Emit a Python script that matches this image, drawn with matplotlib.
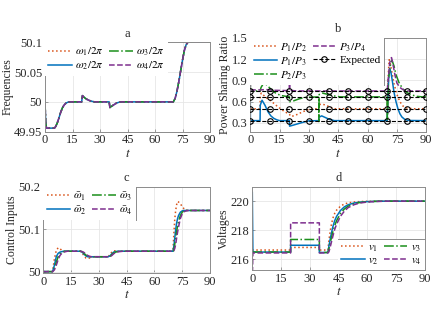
import matplotlib
matplotlib.use("Agg")
import matplotlib.pyplot as plt
from matplotlib.lines import Line2D

plt.rcParams['font.family'] = ['Liberation Serif', 'DejaVu Serif']
plt.rcParams['mathtext.fontset'] = 'stix'

# ---------------- data ----------------
# panel a: frequencies (all four DGs overlap)
t_freq = [0, 0.4, 0.8, 5.0, 5.5, 6.5, 7.5, 8.5, 9.5, 10.5, 11.5, 12.5, 14.0, 20.0, 20.4, 21.0, 22.0,
          23.0, 24.0, 25.5, 27.0, 35.0, 35.4, 36.0, 37.0, 38.0, 39.0, 40.5, 42.0, 70.0, 71.0,
          72.0, 73.0, 74.0, 75.0, 76.0, 77.0, 78.0, 90.0]
freq = [50.0, 49.965, 49.956, 49.956, 49.957, 49.963, 49.972, 49.982, 49.99, 49.995, 49.998, 49.9995,
        50.0, 50.0, 50.0105, 50.0085, 50.006, 50.004, 50.0025, 50.001, 50.0, 50.0, 49.9905, 49.992,
        49.994, 49.996, 49.998, 49.9995, 50.0, 50.0, 50.006, 50.018, 50.034, 50.052, 50.07, 50.086,
        50.096, 50.1, 50.1]

# panel b: power sharing ratios
t_p12 = [0, 5.0, 5.1, 5.6, 8.0, 11.0, 14.0, 17.0, 20.0, 21.0, 24.0, 27.0, 30.0, 33.0, 35.0, 35.2,
         37.0, 39.0, 41.0, 43.0, 70.0, 70.5, 71.0, 71.5, 72.5, 73.5, 75.0, 76.5, 78.0, 80.0, 83.0, 90.0]
p12 = [0.5, 0.5, 0.68, 0.72, 0.66, 0.6, 0.53, 0.47, 0.42, 0.39, 0.42, 0.46, 0.49, 0.5, 0.5, 0.56,
       0.565, 0.545, 0.52, 0.5, 0.5, 0.95, 1.19, 1.15, 1.0, 0.85, 0.7, 0.6, 0.54, 0.51, 0.5, 0.5]

t_p13 = [0, 0.05, 0.3, 5.0, 5.1, 6.0, 7.5, 9.0, 10.5, 12.0, 13.5, 15.0, 20.0, 20.1, 22.0, 24.5, 27.0,
         30.0, 35.0, 35.1, 36.5, 38.5, 40.5, 43.0, 70.0, 70.3, 70.8, 71.3, 72.0, 72.7, 73.5, 74.5,
         75.5, 76.5, 77.5, 79.0, 81.0, 90.0]
p13 = [0.6, 0.333, 0.333, 0.333, 0.55, 0.62, 0.55, 0.46, 0.4, 0.365, 0.345, 0.333, 0.333, 0.255,
       0.27, 0.29, 0.31, 0.33, 0.333, 0.38, 0.4, 0.375, 0.35, 0.333, 0.333, 0.6, 0.95, 1.07, 1.0,
       0.88, 0.73, 0.6, 0.5, 0.43, 0.385, 0.35, 0.335, 0.333]

t_p23 = [0, 0.05, 0.4, 5.0, 5.5, 7.0, 9.0, 11.0, 13.5, 16.0, 20.0, 20.05, 22.0, 25.0, 28.0, 35.0,
         35.05, 35.2, 37.0, 40.0, 43.0, 46.0, 69.9, 70.0, 70.2, 70.6, 71.5, 72.5, 73.5, 74.5, 76.0,
         78.0, 80.0, 82.0, 85.0, 88.0, 90.0]
p23 = [1.08, 0.76, 0.75, 0.75, 0.8, 0.87, 0.82, 0.76, 0.71, 0.685, 0.667, 0.6, 0.61, 0.64, 0.66,
       0.667, 0.32, 0.7, 0.72, 0.7, 0.68, 0.667, 0.667, 0.35, 0.35, 0.9, 1.1, 1.18, 1.1, 0.98, 0.87,
       0.78, 0.73, 0.7, 0.675, 0.667, 0.667]

t_p34 = [0, 0.05, 0.4, 5.0, 8.0, 12.0, 20.0, 20.05, 20.15, 23.0, 27.0, 35.0, 70.0, 70.5, 71.3,
         72.2, 73.0, 74.0, 75.0, 76.5, 78.0, 80.0, 90.0]
p34 = [1.0, 0.77, 0.765, 0.765, 0.77, 0.76, 0.755, 0.93, 0.76, 0.752, 0.75, 0.75, 0.75, 0.9, 1.15,
       1.22, 1.12, 0.97, 0.86, 0.8, 0.77, 0.75, 0.75]

t_expected = [0, 10, 20, 30, 40, 50, 60, 70, 80, 90]
expected_levels = [0.5, 0.333, 0.667, 0.75]

# panel c: control inputs
t_ctrl = [0, 5, 6, 7, 8, 9, 10, 11, 12, 13, 14, 16, 20, 21, 22, 23, 24, 25, 26, 28, 35, 36, 37, 38,
          39, 40, 41, 43, 70, 70.5, 71, 71.5, 72, 72.5, 73, 74, 75, 76, 77, 78, 80, 90]
w1 = [50.0, 50.0, 50.03, 50.05, 50.056, 50.054, 50.05, 50.048, 50.048, 50.048, 50.048, 50.048,
      50.048, 50.044, 50.037, 50.032, 50.031, 50.032, 50.034, 50.035, 50.035, 50.04, 50.046,
      50.049, 50.049, 50.048, 50.048, 50.048, 50.048, 50.09, 50.125, 50.145, 50.158, 50.165,
      50.164, 50.16, 50.153, 50.148, 50.145, 50.144, 50.144, 50.144]
w2 = [50.0, 50.0, 50.015, 50.035, 50.043, 50.046, 50.047, 50.048, 50.048, 50.048, 50.048, 50.048,
      50.048, 50.046, 50.041, 50.037, 50.035, 50.035, 50.035, 50.035, 50.035, 50.037, 50.042,
      50.046, 50.047, 50.048, 50.048, 50.048, 50.048, 50.06, 50.08, 50.1, 50.115, 50.125, 50.132,
      50.14, 50.143, 50.144, 50.144, 50.144, 50.144, 50.144]
w3 = [50.0, 50.0, 50.008, 50.022, 50.035, 50.042, 50.045, 50.047, 50.048, 50.048, 50.048, 50.048,
      50.048, 50.047, 50.043, 50.039, 50.036, 50.035, 50.035, 50.035, 50.035, 50.036, 50.04,
      50.044, 50.046, 50.047, 50.048, 50.048, 50.048, 50.052, 50.065, 50.08, 50.095, 50.108,
      50.118, 50.132, 50.14, 50.143, 50.144, 50.144, 50.144, 50.144]
w4 = [50.0, 50.0, 50.004, 50.015, 50.028, 50.038, 50.043, 50.046, 50.047, 50.048, 50.048, 50.048,
      50.048, 50.047, 50.045, 50.041, 50.038, 50.036, 50.035, 50.035, 50.035, 50.035, 50.038,
      50.042, 50.045, 50.046, 50.047, 50.048, 50.048, 50.049, 50.055, 50.065, 50.08, 50.093,
      50.105, 50.125, 50.136, 50.141, 50.143, 50.144, 50.144, 50.144]

# panel d: voltages
t_volt = [0, 0.3, 20, 20, 35, 35, 39.5, 40, 41, 42, 43, 44, 46, 48, 50, 53, 56, 60, 65, 70, 90]
v1 = [216.6, 216.62, 216.62, 216.8, 216.8, 216.62, 216.62, 217.3, 218.2, 218.8, 219.15, 219.38,
      219.65, 219.8, 219.88, 219.94, 219.97, 219.99, 220.0, 220.0, 220.0]
v2 = [220.6, 216.48, 216.48, 216.95, 216.95, 216.45, 216.45, 216.9, 217.6, 218.2, 218.65, 218.95,
      219.35, 219.6, 219.75, 219.87, 219.93, 219.97, 219.99, 220.0, 220.0]
v3 = [216.5, 216.48, 216.48, 217.35, 217.35, 216.45, 216.45, 216.7, 217.3, 217.85, 218.3, 218.65,
      219.15, 219.45, 219.65, 219.82, 219.9, 219.96, 219.99, 220.0, 220.0]
v4 = [214.5, 216.42, 216.42, 218.5, 218.5, 216.42, 216.42, 216.5, 217.0, 217.55, 218.05, 218.4,
      218.95, 219.3, 219.55, 219.75, 219.87, 219.94, 219.98, 220.0, 220.0]

x_ticks = [0, 15, 30, 45, 60, 75, 90]

# ---------------- styles ----------------
C_OR = '#D95319'
C_BL = '#0072BD'
C_GR = '#1B8F1B'
C_PU = '#7E2F8E'
SPINE = '#8c8c8c'
GRID = '#e6e6e6'
FS_TICK = 9
FS_LAB = 8.5
LW = 1.1

fig = plt.figure(figsize=(4.37, 3.33), dpi=100)


def style_axes(ax, ylim, yticks, ylabels, title, ylabel):
    ax.set_xlim(0, 90)
    ax.set_ylim(*ylim)
    ax.set_xticks(x_ticks)
    ax.set_yticks(yticks)
    ax.set_yticklabels(ylabels)
    ax.tick_params(direction='in', length=2.5, width=0.6, colors=SPINE, labelcolor='#262626',
                   labelsize=FS_TICK, pad=2)
    for s in ax.spines.values():
        s.set_color(SPINE)
        s.set_linewidth(0.7)
    ax.grid(True, color=GRID, linewidth=0.6)
    ax.set_axisbelow(True)
    ax.set_title(title, fontsize=9, pad=4, color='#262626')
    ax.set_xlabel('$t$', fontsize=FS_LAB + 1, labelpad=1, color='#262626')
    ax.set_ylabel(ylabel, fontsize=FS_LAB, labelpad=0.5, color='#262626')


def make_legend(ax, loc, anchor, ncol=2):
    leg = ax.legend(loc=loc, bbox_to_anchor=anchor, ncol=ncol, fontsize=8, frameon=True,
                    fancybox=False, borderaxespad=0, handlelength=2.1, handletextpad=0.3,
                    columnspacing=0.5, labelspacing=0.15, borderpad=0.3)
    leg.get_frame().set_facecolor('white')
    leg.get_frame().set_edgecolor('none')
    leg.get_frame().set_alpha(1)
    return leg


# ---- panel a ----
axa = fig.add_axes([45 / 437, 1 - 131.7 / 333, 165 / 437, 89.5 / 333])
axa.plot(t_freq, freq, ':', color=C_OR, lw=LW, label=r'$\omega_1/2\pi$')
axa.plot(t_freq, freq, '-', color=C_BL, lw=LW, label=r'$\omega_2/2\pi$')
axa.plot(t_freq, freq, '-.', color=C_GR, lw=LW, label=r'$\omega_3/2\pi$')
axa.plot(t_freq, freq, '--', color=C_PU, lw=LW, label=r'$\omega_4/2\pi$')
style_axes(axa, (49.95, 50.1), [49.95, 50, 50.05, 50.1], ['49.95', '50', '50.05', '50.1'],
           'a', 'Frequencies')
leg_a = make_legend(axa, 'upper left', (0, 1))

# ---- panel b ----
axb = fig.add_axes([250.3 / 437, 1 - 131.5 / 333, 176 / 437, 93.8 / 333])
axb.plot(t_p12, p12, ':', color=C_OR, lw=LW, label=r'$P_1/P_2$')
axb.plot(t_p13, p13, '-', color=C_BL, lw=LW, label=r'$P_1/P_3$')
axb.plot(t_p23, p23, '-.', color=C_GR, lw=LW, label=r'$P_2/P_3$')
axb.plot(t_p34, p34, '--', color=C_PU, lw=LW, label=r'$P_3/P_4$')
for i, lev in enumerate(expected_levels):
    axb.plot(t_expected, [lev] * len(t_expected), '--o', color='black', lw=0.8, ms=4,
             mfc='none', mew=0.8, zorder=3, label='Expected' if i == 0 else None)
style_axes(axb, (0.18, 1.5), [0.3, 0.6, 0.9, 1.2, 1.5], ['0.3', '0.6', '0.9', '1.2', '1.5'],
           'b', 'Power Sharing Ratio')
leg_b = make_legend(axb, 'upper left', (0, 1))

# ---- panel c ----
axc = fig.add_axes([43.3 / 437, 1 - 273.3 / 333, 166.7 / 437, 86.6 / 333])
axc.plot(t_ctrl, w1, ':', color=C_OR, lw=LW, label=r'$\bar{\omega}_1$')
axc.plot(t_ctrl, w2, '-', color=C_BL, lw=LW, label=r'$\bar{\omega}_2$')
axc.plot(t_ctrl, w3, '-.', color=C_GR, lw=LW, label=r'$\bar{\omega}_3$')
axc.plot(t_ctrl, w4, '--', color=C_PU, lw=LW, label=r'$\bar{\omega}_4$')
style_axes(axc, (49.996, 50.2), [50, 50.1, 50.2], ['50', '50.1', '50.2'], 'c', 'Control Inputs')
leg_c = make_legend(axc, 'upper left', (0, 1))

# ---- panel d ----
axd = fig.add_axes([252.3 / 437, 1 - 270 / 333, 172.4 / 437, 83.3 / 333])
axd.plot(t_volt, v1, ':', color=C_OR, lw=LW, label=r'$v_1$')
axd.plot(t_volt, v2, '-', color=C_BL, lw=LW, label=r'$v_2$')
axd.plot(t_volt, v3, '-.', color=C_GR, lw=LW, label=r'$v_3$')
axd.plot(t_volt, v4, '--', color=C_PU, lw=LW, label=r'$v_4$')
style_axes(axd, (215.24, 221.0), [216, 218, 220], ['216', '218', '220'], 'd', 'Voltages')
leg_d = make_legend(axd, 'lower right', (1, 0))

# partial legend edges, as in the reference
fig.canvas.draw()
inv = fig.transFigure.inverted()


def leg_box(leg):
    bb = leg.get_window_extent()
    (x0, y0), (x1, y1) = inv.transform([[bb.x0, bb.y0], [bb.x1, bb.y1]])
    return x0, y0, x1, y1


for leg in (leg_b, leg_c):
    x0, y0, x1, y1 = leg_box(leg)
    fig.add_artist(Line2D([x1, x1], [y0, y1], color=SPINE, lw=0.7, zorder=10))
x0, y0, x1, y1 = leg_box(leg_d)
fig.add_artist(Line2D([x0, x1], [y1, y1], color=SPINE, lw=0.7, zorder=10))

fig.savefig('out.png', dpi=100)
